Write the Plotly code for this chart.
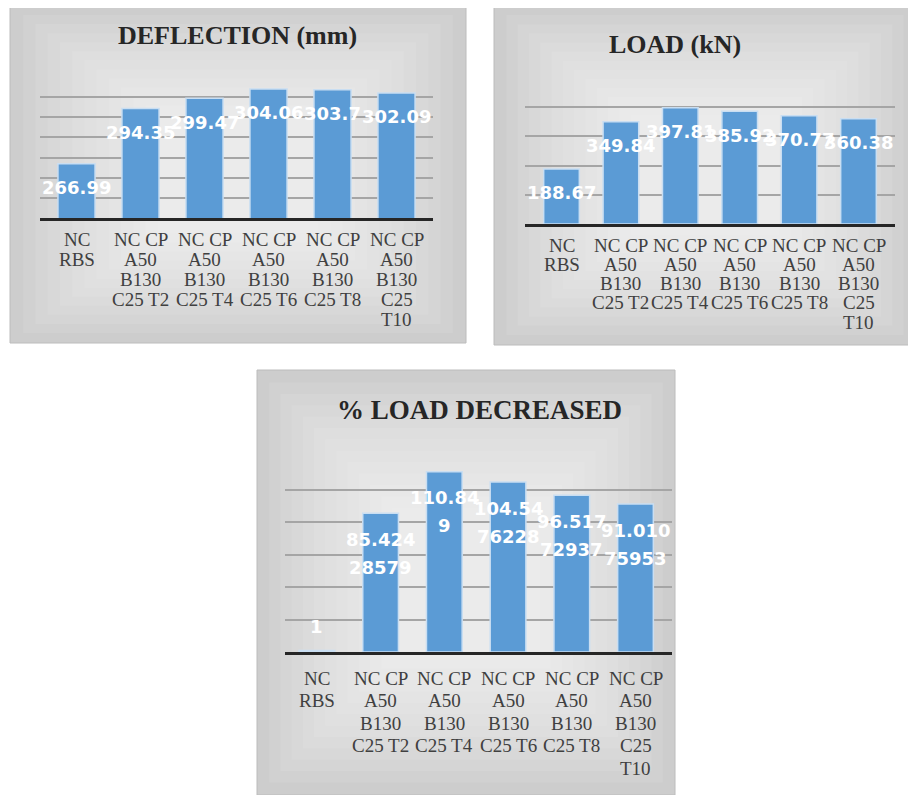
import plotly.graph_objects as go

# ---------------- data ----------------
categories = ["NC RBS", "NC CP A50 B130 C25 T2", "NC CP A50 B130 C25 T4",
              "NC CP A50 B130 C25 T6", "NC CP A50 B130 C25 T8", "NC CP A50 B130 C25 T10"]
tick_labels = ["NC\nRBS",
               "NC CP\nA50\nB130\nC25 T2",
               "NC CP\nA50\nB130\nC25 T4",
               "NC CP\nA50\nB130\nC25 T6",
               "NC CP\nA50\nB130\nC25 T8",
               "NC CP\nA50\nB130\nC25\nT10"]
deflection_mm = [266.99, 294.35, 299.47, 304.06, 303.7, 302.09]
load_kn = [188.67, 349.84, 397.81, 385.92, 370.77, 360.38]
load_decreased_pct = [1, 85.42428579, 110.849, 104.5476228, 96.51772937, 91.01075953]

titles = ["DEFLECTION (mm)", "LOAD (kN)", "% LOAD DECREASED"]

# the page body has an 8px margin; work in window pixels and convert
OFF = 8
W, H = 916 - OFF, 795 - OFF
BAR = "#5B9BD5"


def px(x):
    return (x - OFF) / W


def py(y):
    return 1 - (y - OFF) / H


fig = go.Figure()

# panel geometry (window pixels): frame, plot area, title centre, axis range
panels = [
    dict(frame=(10, 5, 466, 343), plot=(40, 77, 433, 218), title=(237, 35), tsize=26,
         rng=(240, 310), dtick=10, values=deflection_mm, width=0.58,
         tfs=19, t_first=21, t_step=20, wrap=None),
    dict(frame=(494, 5, 916, 345), plot=(525, 78, 895, 224), title=(675, 45), tsize=26,
         rng=(0, 500), dtick=100, values=load_kn, width=0.6,
         tfs=19, t_first=21, t_step=19.3, wrap=None),
    dict(frame=(257, 370, 675, 795), plot=(285, 457, 672, 652), title=(479, 410), tsize=27,
         rng=(0, 120), dtick=20, values=load_decreased_pct, width=0.56,
         tfs=19, t_first=26, t_step=22.5, wrap=6),
]

shapes = []
annotations = []

for i, p in enumerate(panels, start=1):
    # background with soft radial-ish gradient
    x0, y0, x1, y1 = p["frame"]
    shapes.append(dict(type="rect", xref="paper", yref="paper", layer="below",
                       x0=px(x0), x1=px(x1), y0=py(y1), y1=py(y0),
                       fillcolor="#cdcdcd", line=dict(color="#bcbcbc", width=1)))
    n = 12
    cx, cy = (x0 + x1) / 2, (y0 + y1) / 2
    hw, hh = (x1 - x0) / 2, (y1 - y0) / 2
    for k in range(1, n + 1):
        f = 0.25 + 0.75 * (1 - k / (n + 2))
        shapes.append(dict(type="rect", xref="paper", yref="paper", layer="below",
                           x0=px(cx - hw * f + 1), x1=px(cx + hw * f - 1),
                           y0=py(cy + hh * f - 1), y1=py(cy - hh * f + 1),
                           fillcolor="rgba(255,255,255,0.085)", line=dict(width=0)))

    vals = p["values"]
    xa = "x" if i == 1 else f"x{i}"
    ya = "y" if i == 1 else f"y{i}"
    fig.add_trace(go.Bar(x=categories, y=vals, xaxis=xa, yaxis=ya, width=p["width"],
                         marker=dict(color=BAR, line=dict(color="#c9def2", width=1.5)),
                         hoverinfo="skip", showlegend=False))

    lx0, ly0, lx1, ly1 = p["plot"]
    axis_x = dict(domain=[px(lx0), px(lx1)], anchor=ya, type="category",
                  categoryorder="array", categoryarray=categories,
                  showticklabels=False, ticks="", showgrid=False, zeroline=False,
                  showline=True, linecolor="#262626", linewidth=3, fixedrange=True)
    axis_y = dict(domain=[py(ly1), py(ly0)], anchor=xa, range=list(p["rng"]),
                  dtick=p["dtick"], tick0=p["rng"][0], showticklabels=False,
                  showgrid=True, gridcolor="#a5a5a5", gridwidth=1.5,
                  zeroline=False, showline=False, ticks="", fixedrange=True)
    fig.update_layout(**{("xaxis" if i == 1 else f"xaxis{i}"): axis_x,
                         ("yaxis" if i == 1 else f"yaxis{i}"): axis_y})

    # title
    tx, ty = p["title"]
    annotations.append(dict(xref="paper", yref="paper", x=px(tx), y=py(ty),
                            text="<b>" + titles[i - 1] + "</b>", showarrow=False,
                            xanchor="center", yanchor="middle",
                            font=dict(family="Liberation Serif", size=p["tsize"], color="#262626")))

    lo, hi = p["rng"]
    # category labels, one line each, below the axis
    for c, lab in zip(categories, tick_labels):
        for li, line in enumerate(lab.split("\n")):
            annotations.append(dict(xref=xa, yref=ya, x=c, y=lo, text=line,
                                    showarrow=False, xanchor="center", yanchor="middle",
                                    yshift=-(p["t_first"] + li * p["t_step"]),
                                    font=dict(family="Liberation Serif", size=p["tfs"],
                                              color="#404040")))

    # data labels
    for c, v in zip(categories, vals):
        s = f"{v}"
        if p["wrap"]:
            lines = [s[j:j + p["wrap"]] for j in range(0, len(s), p["wrap"])]
        else:
            lines = [s]
        short = (v - lo) / (hi - lo) < 0.1
        for li, line in enumerate(lines):
            if short:
                shift = 24 + (len(lines) - 1 - li) * 28
            else:
                shift = -(26 + li * 28) if p["wrap"] else -24
            annotations.append(dict(xref=xa, yref=ya, x=c, y=v, text="<b>" + line + "</b>",
                                    showarrow=False, xanchor="center", yanchor="middle",
                                    yshift=shift,
                                    font=dict(family="DejaVu Sans", size=18, color="white")))

fig.update_layout(width=W, height=H, margin=dict(l=0, r=0, t=0, b=0),
                  paper_bgcolor="white", plot_bgcolor="rgba(0,0,0,0)",
                  shapes=shapes, annotations=annotations, showlegend=False)

fig.write_html("out.html", config={"displayModeBar": False})
